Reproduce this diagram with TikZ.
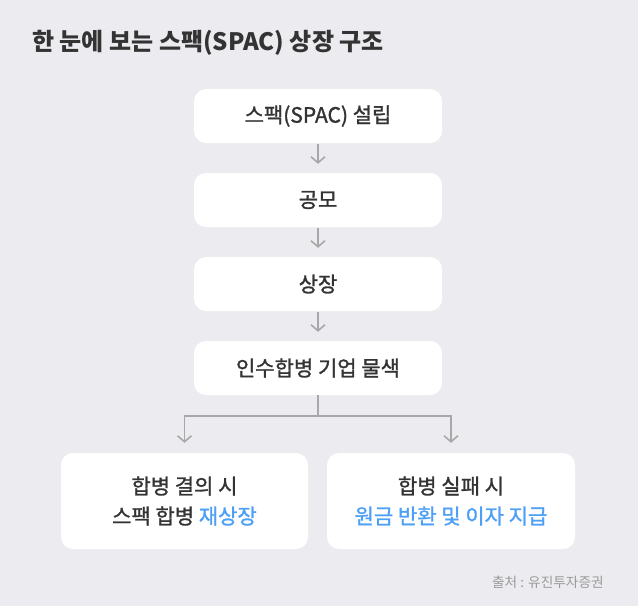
\documentclass[tikz,border=0pt]{standalone}
\usepackage{fontspec}
\usepackage{xcolor}
\usetikzlibrary{arrows.meta}
\setmainfont{Noto Sans CJK KR}
\newfontfamily\krmid{Noto Sans CJK KR}[FakeBold=1.3]
\definecolor{bggray}{RGB}{236,236,240}
\definecolor{txtgray}{RGB}{51,51,51}
\definecolor{hlblue}{RGB}{77,160,245}
\definecolor{arrowgray}{RGB}{168,168,168}
\definecolor{srcgray}{RGB}{155,155,155}

\begin{document}
\begin{tikzpicture}[x=1pt,y=-1pt,
  stepbox/.style={fill=white, rounded corners=12pt, text=txtgray, inner sep=0pt,
    align=center, font=\krmid\fontsize{21}{30}\selectfont},
  flow/.style={draw=arrowgray, line width=1.6pt, -{Straight Barb[length=6pt,width=14pt]}}]
\fill[bggray] (0,0) rectangle (638,606); % background
\useasboundingbox (0,0) rectangle (638,606);
\node[anchor=west, inner sep=0pt, text=txtgray, font=\bfseries\fontsize{24}{28}\selectfont]
  (title) at (32,43) {한 눈에 보는 스팩(SPAC) 상장 구조};
\node[stepbox, minimum width=248pt, minimum height=54pt] (setup) at (318,116) {스팩(SPAC) 설립};
\node[stepbox, minimum width=248pt, minimum height=54pt] (offer) at (318,200) {공모};
\node[stepbox, minimum width=248pt, minimum height=54pt] (listing) at (318,284) {상장};
\node[stepbox, minimum width=248pt, minimum height=54pt] (search) at (318,368) {인수합병 기업 물색};
\node[stepbox, minimum width=247pt, minimum height=96pt] (success) at (184.5,501)
  {합병 결의 시\\스팩 합병 \textcolor{hlblue}{재상장}};
\node[stepbox, minimum width=248pt, minimum height=96pt] (fail) at (451,501)
  {합병 실패 시\\\textcolor{hlblue}{원금 반환 및 이자 지급}};
\draw[flow, shorten <=1pt, shorten >=9pt] (setup) -- (offer);
\draw[flow, shorten <=1pt, shorten >=9pt] (offer) -- (listing);
\draw[flow, shorten <=1pt, shorten >=9pt] (listing) -- (search);
\draw[draw=arrowgray, line width=1.6pt] (search.south) -- ++(0,21) coordinate (fork); % split
\draw[flow, shorten >=10pt] (fork) -| (success.north);
\draw[flow, shorten >=10pt] (fork) -| (fail.north);
\node[anchor=east, inner sep=0pt, text=srcgray, font=\fontsize{13.7}{16}\selectfont]
  (source) at (604,582) {출처 : 유진투자증권};
\end{tikzpicture}
\end{document}
